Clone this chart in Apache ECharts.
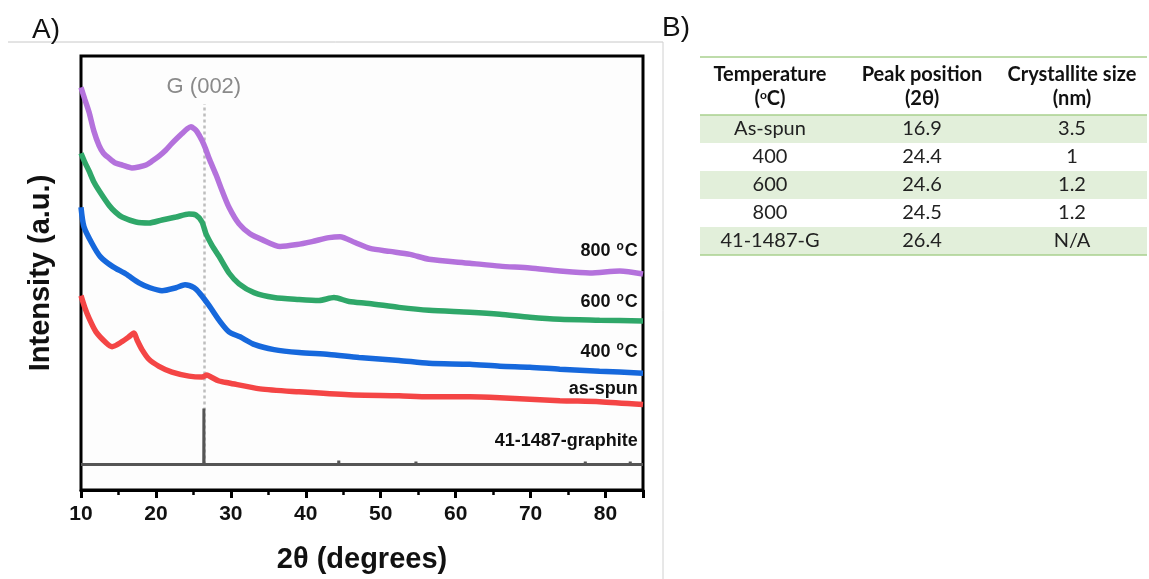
<!DOCTYPE html>
<html>
<head>
<meta charset="utf-8">
<script src="https://cdn.jsdelivr.net/npm/echarts@6/dist/echarts.min.js"></script>
<style>
html,body{margin:0;padding:0;background:#fff;}
#chart{width:1149px;height:579px;}
</style>
</head>
<body>
<div id="chart"></div>
<script>
// ---- XRD data (2θ, intensity a.u.) ----
const twoTheta800 = [10.0,10.5,11.07,11.7,12.4,13.0,13.74,14.6,15.47,16.8,17.7,18.67,19.5,20.41,21.3,22.14,23.48,24.2,24.68,25.1,25.48,26.15,26.6,27.08,28.02,28.82,29.75,31.09,32.55,34.16,36.56,38.83,40.83,43.1,44.57,46.57,48.57,51.24,53.9,56.44,61.9,65.9,69.9,73.9,77.9,81.9,85.0];
const int800 = [410,398,385,366,351,343,338,333,331,328,329,331,335,340,346,353,363,368,370,368,365,356,348,338,321,305,288,271,261,255,248,250,253,257,258,252,246,243,240,235,231,228,226,223,221,223,220];

const twoTheta600 = [10.0,10.5,11.07,11.7,12.4,13.74,14.6,15.47,17.34,19.08,20.81,22.68,24.41,25.35,26.15,26.68,27.5,28.42,29.75,31.09,33.09,35.76,39.1,41.76,43.76,45.76,48.43,52.43,56.44,61.9,65.9,69.9,73.9,79.2,85.0];
const int600 = [343,334,325,314,305,290,283,278,273,272,275,278,281,280,273,261,249,238,221,210,201,196,194,193,196,192,190,186,183,181,179,176,174,173,172];

const twoTheta400 = [10.0,10.4,11.47,12.54,14.14,16.0,17.74,19.21,20.81,22.68,23.88,25.08,25.88,27.08,28.42,29.75,31.22,33.2,35.76,39.1,43.1,47.1,52.43,56.44,61.9,65.9,69.9,73.9,79.2,85.0];
const int400 = [288,268,251,238,228,220,211,206,203,206,209,206,200,188,173,161,156,148,143,140,138,135,132,129,128,126,125,123,121,119];

const twoThetaAsSpun = [10.0,10.5,11.07,12.0,13.34,14.14,15.47,16.4,17.07,17.47,18.14,19.08,20.41,22.14,24.41,26.15,26.8,27.35,28.42,29.75,33.89,39.1,45.76,52.43,56.44,61.9,65.9,73.9,79.2,85.0];
const intAsSpun = [198,186,175,161,150,146,151,156,160,153,143,133,126,120,116,115,117,115,111,109,103,100,97,96,95,95,94,91,90,87];

// reference pattern 41-1487 graphite (peak positions, relative stick heights)
const graphiteBase = 26;
const graphitePeaks = [26.4,42.3,44.4,50.6,54.7,59.6,77.3,83.3];
const graphiteHeights = [57,2,4,1,3,1,3,3];

// axis
const xMin = 10, xMax = 85, xStep = 10;

// curve labels: [text, label-height]
const curveLabels = [
  ['800 {s|o}C', 243],
  ['600 {s|o}C', 191],
  ['400 {s|o}C', 141],
  ['as-spun', 103],
  ['41-1487-graphite', 50]
];

// ---- table B ----
const tableHeader1 = ['Temperature','Peak position','Crystallite size'];
const tableHeader2 = ['({s|o}C)','(2\u03B8)','(nm)'];
const tableTemp = ['As-spun','400','600','800','41-1487-G'];
const tablePeak = ['16.9','24.4','24.6','24.5','26.4'];
const tableSize = ['3.5','1','1.2','1.2','N/A'];

function zip(a,b){return a.map((v,i)=>[v,b[i]]);}

const graphiteData = [[xMin, graphiteBase]];
graphitePeaks.forEach((p,i)=>{
  graphiteData.push([p-0.02, graphiteBase],[p, graphiteBase+graphiteHeights[i]],[p+0.02, graphiteBase]);
});
graphiteData.push([xMax, graphiteBase]);

const chart = echarts.init(document.getElementById('chart'), null, {renderer:'canvas'});
const F = "'Liberation Sans', Arial, sans-serif";
const TF = "Lato, 'Noto Sans', sans-serif";

function lineSeries(name, data, color, lbl){
  return {
    name, type:'line', data, symbol:'none', smooth:0.25,
    lineStyle:{color, width:5.5}, z:3,
    markPoint:{
      symbol:'circle', symbolSize:0, silent:true,
      data:[{coord:[84.3, lbl[1]]}],
      label:{show:true, position:'left', distance:0, formatter:lbl[0],
        color:'#111', fontFamily:F, fontWeight:'bold', fontSize:18,
        rich:{s:{fontSize:12, fontWeight:'bold', fontFamily:F, color:'#111', verticalAlign:'top', padding:[0,1,9,1]}}}
    }
  };
}

// table graphics
const tbl = [];
const colX = [770, 922, 1072];
const tLeft = 700, tRight = 1147;
const rowTop = 115, rowH = 28;
tableTemp.forEach((t,i)=>{
  if(i%2===0){
    tbl.push({type:'rect', shape:{x:tLeft, y:rowTop+i*rowH, width:tRight-tLeft, height:rowH}, style:{fill:'#e2efda'}});
  }
});
[57, rowTop, rowTop+rowH*tableTemp.length].forEach(y=>{
  tbl.push({type:'line', shape:{x1:tLeft, y1:y, x2:tRight, y2:y}, style:{stroke:'#a9d08e', lineWidth:1.5}});
});
tableHeader1.forEach((h,c)=>{
  tbl.push({type:'text', x:colX[c], y:75, style:{text:h, font:"bold 20px "+TF, fill:'#111', align:'center', verticalAlign:'middle'}});
});
tableHeader2.forEach((h,c)=>{
  tbl.push({type:'text', x:colX[c], y:99, style:{text:h, font:"bold 20px "+TF, fill:'#111', align:'center', verticalAlign:'middle',
    rich:{s:{font:"bold 12px "+TF, fill:'#111', verticalAlign:'top', padding:[0,0,8,0]}}}});
});
tableTemp.forEach((t,i)=>{
  const y = rowTop + i*rowH + rowH/2;
  [t, tablePeak[i], tableSize[i]].forEach((v,c)=>{
    tbl.push({type:'text', x:colX[c], y, style:{text:v, font:"20px "+TF, fill:'#222', align:'center', verticalAlign:'middle'}});
  });
});

chart.setOption({
  animation:false,
  backgroundColor:'#fff',
  grid:{left:81, top:56, width:562, height:442, show:true, borderColor:'#000', borderWidth:3, backgroundColor:'#fdfdfd', containLabel:false},
  xAxis:{
    type:'value', min:xMin, max:xMax, interval:xStep,
    name:'2\u03B8 (degrees)', nameLocation:'middle', nameGap:55,
    nameTextStyle:{fontFamily:F, fontWeight:'bold', fontSize:29, color:'#111'},
    axisLine:{show:true, lineStyle:{color:'#000', width:3}},
    axisTick:{show:true, inside:false, length:8, lineStyle:{color:'#000', width:3}},
    minorTick:{show:true, splitNumber:2, length:5, lineStyle:{color:'#000', width:2.5}},
    axisLabel:{fontFamily:"'Liberation Sans Narrow', "+F, fontWeight:'bold', fontSize:21, color:'#111', margin:14, showMaxLabel:false},
    splitLine:{show:false}
  },
  yAxis:{
    type:'value', min:0, max:442, show:true,
    name:'Intensity (a.u.)', nameLocation:'middle', nameGap:26,
    nameTextStyle:{fontFamily:F, fontWeight:'bold', fontSize:29, color:'#111'},
    axisLine:{show:false}, axisTick:{show:false}, axisLabel:{show:false}, splitLine:{show:false}
  },
  series:[
    {
      name:'41-1487-graphite', type:'line', data:graphiteData, symbol:'none',
      lineStyle:{color:'#555', width:3}, z:2,
      markPoint:{
        symbol:'circle', symbolSize:0, silent:true,
        data:[{coord:[84.3, curveLabels[4][1]]}],
        label:{show:true, position:'left', distance:0, formatter:curveLabels[4][0], color:'#111', fontFamily:F, fontWeight:'bold', fontSize:18}
      },
      markLine:{
        silent:true, symbol:['none','none'], z:1,
        lineStyle:{color:'#bdbdbd', type:[3,3], width:2.5},
        label:{show:true, position:'end', formatter:'G (002)', color:'#8a8a8a', fontFamily:F, fontSize:22, distance:6},
        data:[[{coord:[26.4, graphiteBase]},{coord:[26.4, 393]}]]
      }
    },
    lineSeries('as-spun', zip(twoThetaAsSpun,intAsSpun), '#f44545', curveLabels[3]),
    lineSeries('400', zip(twoTheta400,int400), '#1668dc', curveLabels[2]),
    lineSeries('600', zip(twoTheta600,int600), '#2fa769', curveLabels[1]),
    lineSeries('800', zip(twoTheta800,int800), '#b472dc', curveLabels[0])
  ],
  graphic:[
    {type:'line', shape:{x1:8, y1:42, x2:663, y2:42}, style:{stroke:'#c8c8c8', lineWidth:1}},
    {type:'line', shape:{x1:663, y1:42, x2:663, y2:579}, style:{stroke:'#d0d0d0', lineWidth:1}},
    {type:'text', x:32, y:30, style:{text:'A)', font:"28px "+F, fill:'#111', verticalAlign:'middle'}},
    {type:'text', x:662, y:28, style:{text:'B)', font:"28px "+F, fill:'#111', verticalAlign:'middle'}}
  ].concat(tbl)
});
</script>
</body>
</html>
